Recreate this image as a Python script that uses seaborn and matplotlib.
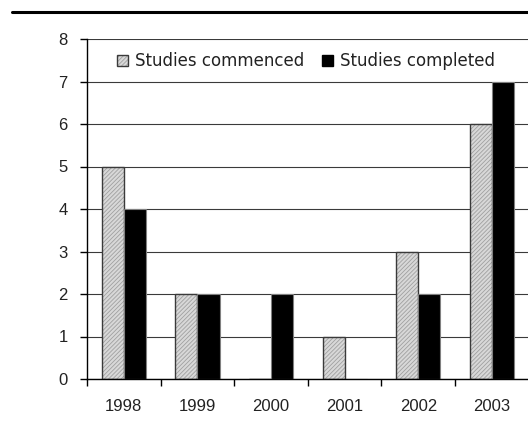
import matplotlib
matplotlib.use("Agg")
import matplotlib.pyplot as plt
from matplotlib.patches import Patch
from matplotlib.lines import Line2D
from matplotlib.colors import to_rgba
import seaborn as sns
import pandas as pd

# Study counts per year
years = ["1998", "1999", "2000", "2001", "2002", "2003"]
commenced = [5, 2, 0, 1, 3, 6]
completed = [4, 2, 2, 0, 2, 7]
series_names = ["Studies commenced", "Studies completed"]
y_ticks = [0, 1, 2, 3, 4, 5, 6, 7, 8]

df = pd.DataFrame({
    "year": years * 2,
    "count": commenced + completed,
    "series": [series_names[0]] * len(years) + [series_names[1]] * len(years),
})

sns.set_theme(style="white")
plt.rcParams["hatch.linewidth"] = 0.6

fig = plt.figure(figsize=(5.28, 4.41), dpi=100)
ax = fig.add_axes([87 / 528, 1 - 379 / 441, 1 - 87 / 528, (379 - 39) / 441])

fill_light = "#d8d8d8"
sns.barplot(data=df, x="year", y="count", hue="series", order=years,
            hue_order=series_names,
            palette={series_names[0]: fill_light, series_names[1]: "black"},
            width=0.6, gap=0, ax=ax, legend=False, saturation=1,
            linewidth=1.0, edgecolor="#777777")

# Hatched fill for the commenced bars
n = len(years)
for bar in ax.patches[:n]:
    bar.set_hatch("////////")
    bar.set_edgecolor("#3a3a3a")
    bar._hatch_color = to_rgba("#a0a0a0")
for bar in ax.patches[n:]:
    bar.set_edgecolor("#808080")
    bar.set_linewidth(0.8)

ax.set_ylim(0, 8)
ax.set_xlim(-0.5, 5.49)
ax.set_yticks(y_ticks)
ax.set_axisbelow(True)
ax.yaxis.grid(True, color="#3a3a3a", linewidth=0.8)
ax.xaxis.grid(False)

for side in ["top", "right"]:
    ax.spines[side].set_visible(False)
for side in ["left", "bottom"]:
    ax.spines[side].set_color("black")
    ax.spines[side].set_linewidth(1.0)

ax.set_xlabel("")
ax.set_ylabel("")

tick_font = {"family": "Liberation Sans", "size": 12}
ax.set_xticks(range(n))
ax.set_xticklabels(years, fontdict=tick_font, color="#222222")
ax.set_yticklabels([str(v) for v in y_ticks], fontdict=tick_font, color="#222222")
ax.tick_params(axis="x", which="major", length=0, pad=14.5)
# Category separators along the x axis
ax.set_xticks([i - 0.5 for i in range(n)], minor=True)
ax.tick_params(axis="x", which="minor", length=5, width=1, color="black",
               direction="out", bottom=True)
ax.tick_params(axis="y", which="major", length=5, width=1, color="black",
               direction="out", left=True, pad=9)

handles = [
    Patch(facecolor=fill_light, edgecolor="#3a3a3a", hatch="////////", linewidth=1.0),
    Patch(facecolor="black", edgecolor="black", linewidth=1.0),
]
leg = ax.legend(handles, series_names, loc="center", bbox_to_anchor=(0.497, 0.935),
                ncol=2, frameon=False, handlelength=0.65, handleheight=0.65,
                handletextpad=0.4, columnspacing=1.1,
                prop={"family": "DejaVu Sans", "size": 12})
for t in leg.get_texts():
    t.set_color("#222222")
for h in leg.legend_handles[:1]:
    h._hatch_color = to_rgba("#a0a0a0")

# Rule across the top of the figure
fig.add_artist(Line2D([12 / 528, 1.0], [1 - 12 / 441, 1 - 12 / 441],
                      transform=fig.transFigure, color="black", linewidth=2.2))

fig.savefig("out.png", dpi=100)
